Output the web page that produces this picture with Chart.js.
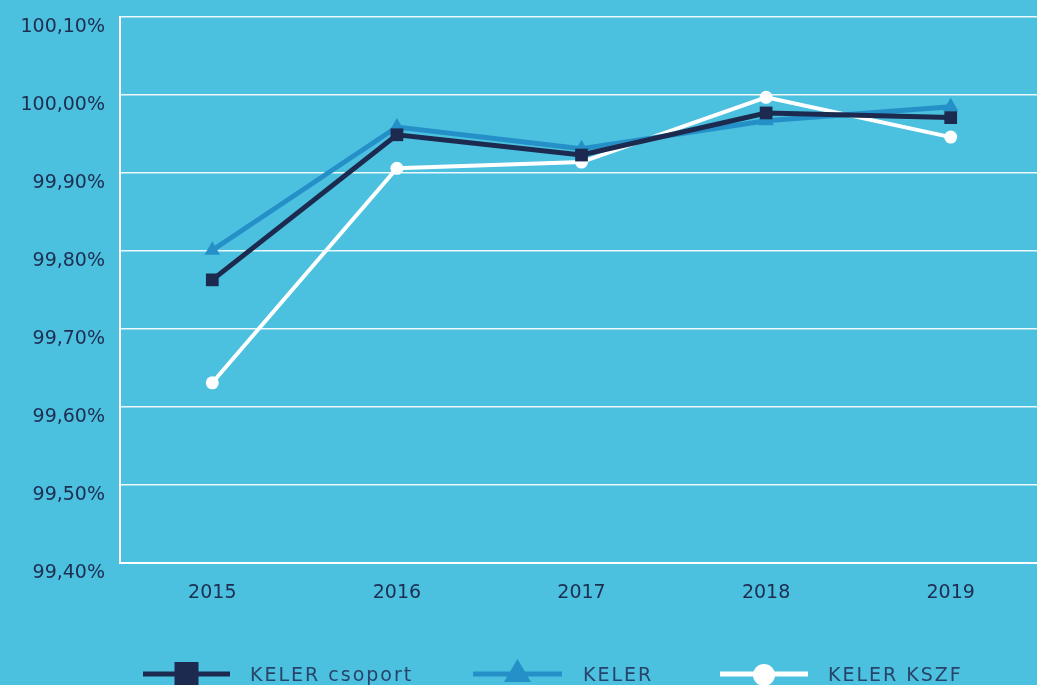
<!DOCTYPE html>
<html>
<head>
<meta charset="utf-8">
<script src="https://cdn.jsdelivr.net/npm/chart.js@4"></script>
<style>
  html, body { margin: 0; padding: 0; background: #4bc0df; overflow: hidden; }
  canvas { display: block; }
</style>
</head>
<body>
<canvas id="chart" width="1043" height="685"></canvas>
<script>
// --- DATA ---
const years = ['2015', '2016', '2017', '2018', '2019'];
const kelerCsoport = [99.763, 99.949, 99.923, 99.977, 99.971];
const keler = [99.801, 99.959, 99.931, 99.967, 99.985];
const kelerKszf = [99.631, 99.906, 99.914, 99.997, 99.946];
const yTickValues = [99.4, 99.5, 99.6, 99.7, 99.8, 99.9, 100.0, 100.1];
const seriesNames = ['KELER csoport', 'KELER', 'KELER KSZF'];

const NAVY = '#1b2a4e';
const BLUE = '#2590c8';
const WHITE = '#ffffff';
const TEXT = '#1e2d50';

const fmtPct = v => v.toFixed(2).replace('.', ',') + '%';

// --- LEGEND (drawn under the plot, partly cut by the canvas edge) ---
const legendPlugin = {
    id: 'bottomLegend',
    afterDraw(chart) {
        const ctx = chart.ctx;
        const y = 674;
        const items = [
            { x1: 143, x2: 230, color: NAVY, shape: 'rect', tx: 250 },
            { x1: 473, x2: 562, color: BLUE, shape: 'tri', tx: 583 },
            { x1: 720, x2: 808, color: WHITE, shape: 'circle', tx: 828 }
        ];
        ctx.save();
        items.forEach((it, i) => {
            const mx = (it.x1 + it.x2) / 2;
            ctx.strokeStyle = it.color;
            ctx.fillStyle = it.color;
            ctx.lineWidth = 5;
            ctx.beginPath();
            ctx.moveTo(it.x1, y);
            ctx.lineTo(it.x2, y);
            ctx.stroke();
            ctx.beginPath();
            if (it.shape === 'rect') {
                ctx.rect(mx - 12, y - 12, 24, 24);
            } else if (it.shape === 'tri') {
                ctx.moveTo(mx, y - 15);
                ctx.lineTo(mx + 13.5, y + 8);
                ctx.lineTo(mx - 13.5, y + 8);
                ctx.closePath();
            } else {
                ctx.arc(mx, y + 1, 11, 0, Math.PI * 2);
            }
            ctx.fill();
            ctx.fillStyle = '#28446a';
            ctx.font = '19px "DejaVu Sans"';
            ctx.letterSpacing = '2px';
            ctx.textBaseline = 'alphabetic';
            ctx.textAlign = 'left';
            ctx.fillText(seriesNames[i], it.tx, y + 7);
        });
        ctx.restore();
    }
};

// --- CHART ---
new Chart(document.getElementById('chart'), {
    type: 'line',
    data: {
        labels: years,
        datasets: [
            {
                label: seriesNames[0], data: kelerCsoport,
                borderColor: NAVY, backgroundColor: NAVY, borderWidth: 5,
                pointStyle: 'rect', pointRadius: 9, pointBorderWidth: 0,
                pointBackgroundColor: NAVY, tension: 0
            },
            {
                label: seriesNames[1], data: keler,
                borderColor: BLUE, backgroundColor: BLUE, borderWidth: 5,
                pointStyle: 'triangle', pointRadius: 9, pointBorderWidth: 0,
                pointBackgroundColor: BLUE, tension: 0
            },
            {
                label: seriesNames[2], data: kelerKszf,
                borderColor: WHITE, backgroundColor: WHITE, borderWidth: 4,
                pointStyle: 'circle', pointRadius: 6.5, pointBorderWidth: 0,
                pointBackgroundColor: WHITE, tension: 0
            }
        ]
    },
    options: {
        responsive: false,
        animation: false,
        layout: { autoPadding: false, padding: { top: 17, left: 0, right: 0, bottom: 0 } },
        plugins: { legend: { display: false }, tooltip: { enabled: false } },
        scales: {
            x: {
                offset: true,
                grid: { display: false, drawTicks: false },
                border: { display: true, color: WHITE, width: 2 },
                ticks: { color: TEXT, font: { family: 'DejaVu Sans', size: 19 }, padding: 19 },
                afterFit: s => {
                    s.height = 122;
                    s.paddingLeft = 0; s.paddingRight = 0;
                    s.paddingTop = 0; s.paddingBottom = 0;
                }
            },
            y: {
                min: 99.4,
                max: 100.1,
                afterBuildTicks: s => { s.ticks = yTickValues.map(v => ({ value: v })); },
                grid: { color: 'rgba(255,255,255,0.9)', lineWidth: 1.5, drawTicks: false },
                border: { display: true, color: WHITE, width: 2 },
                ticks: {
                    color: TEXT,
                    font: { family: 'DejaVu Sans', size: 19 },
                    padding: 15,
                    labelOffset: 10,
                    callback: v => fmtPct(v)
                },
                afterFit: s => {
                    s.width = 120;
                    s.paddingLeft = 0; s.paddingRight = 0;
                    s.paddingTop = 0; s.paddingBottom = 0;
                }
            }
        }
    },
    plugins: [legendPlugin]
});
</script>
</body>
</html>
